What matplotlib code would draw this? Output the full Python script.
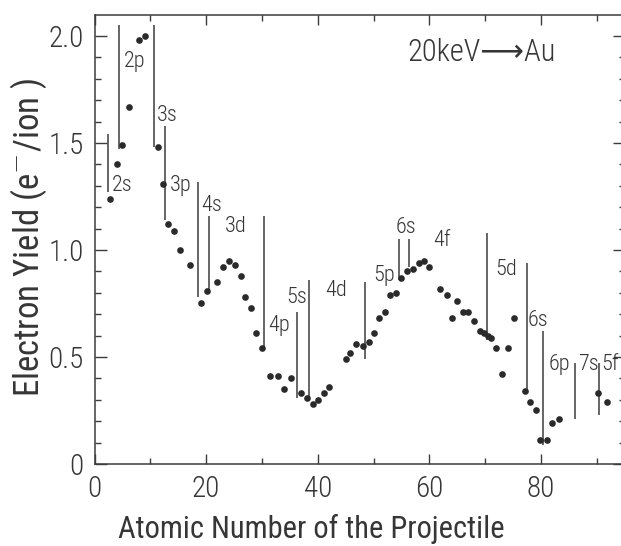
import matplotlib
matplotlib.use('Agg')
import matplotlib.pyplot as plt
from matplotlib.ticker import MultipleLocator, FixedLocator, FixedFormatter

# atomic number of the projectile vs. electron yield (e-/ion), 20 keV ions on Au
Z = [2.8, 4.0, 4.9, 6.2, 7.9, 9.0, 11.3, 12.2, 13.1, 14.2, 15.3, 17.1, 19.1, 20.1,
     22.0, 23.1, 24.1, 25.1, 26.2, 27.0, 28.0, 29.0, 30.0, 31.5, 32.8, 34.0, 35.2,
     37.0, 38.1, 39.1, 40.1, 41.1, 42.1, 45.1, 45.8, 46.9, 48.1, 49.2, 50.1, 51.0,
     52.1, 52.9, 54.1, 55.0, 56.0, 57.0, 58.2, 59.1, 60.0, 62.0, 63.2, 64.1, 65.0,
     66.0, 67.0, 68.0, 69.0, 69.8, 70.5, 71.1, 72.0, 73.0, 74.1, 75.2, 77.2, 78.0,
     79.1, 79.9, 81.1, 82.0, 83.3, 90.2, 91.8]
electron_yield = [1.24, 1.40, 1.49, 1.67, 1.98, 2.00, 1.48, 1.31, 1.12, 1.09, 1.00, 0.93,
                  0.75, 0.81, 0.85, 0.92, 0.95, 0.93, 0.88, 0.78, 0.73, 0.61, 0.54, 0.41,
                  0.41, 0.35, 0.40, 0.33, 0.31, 0.28, 0.30, 0.33, 0.36, 0.49, 0.52, 0.56,
                  0.55, 0.57, 0.61, 0.68, 0.71, 0.79, 0.80, 0.87, 0.90, 0.91, 0.94, 0.95,
                  0.92, 0.82, 0.79, 0.68, 0.76, 0.71, 0.71, 0.67, 0.62, 0.61, 0.60, 0.59,
                  0.54, 0.42, 0.54, 0.68, 0.34, 0.29, 0.25, 0.11, 0.11, 0.19, 0.21, 0.33,
                  0.29]

# vertical markers where a new shell starts filling
shell_x = [2.5, 4.4, 10.6, 12.6, 18.6, 20.5, 30.4, 36.3, 38.4, 48.5, 54.6, 56.4,
           70.3, 77.5, 80.4, 86.2, 90.5]
shell_top = [1.54, 2.05, 2.05, 1.58, 1.32, 1.16, 1.16, 0.71, 0.86, 0.85, 1.05, 1.05,
             1.08, 0.94, 0.62, 0.47, 0.47]
shell_bottom = [1.27, 1.47, 1.48, 1.14, 0.78, 0.80, 0.54, 0.31, 0.30, 0.49, 0.86, 0.92,
                0.58, 0.35, 0.09, 0.21, 0.23]

# shell names
shell_names = ['2s', '2p', '3s', '3p', '4s', '3d', '4p', '5s', '4d', '5p', '6s', '4f',
               '5d', '6s', '6p', '7s', '5f']
name_x = [3.1, 5.3, 11.2, 13.5, 19.2, 23.4, 31.1, 34.4, 41.4, 49.9, 53.9, 60.7,
          71.8, 77.7, 81.3, 86.7, 90.9]
name_y = [1.30, 1.88, 1.63, 1.30, 1.21, 1.11, 0.645, 0.776, 0.81, 0.883, 1.107, 1.044,
          0.911, 0.67, 0.467, 0.467, 0.467]

ytick_vals = [0, 0.5, 1.0, 1.5, 2.0]
ytick_text = ['0', '0.5', '1.0', '1.5', '2.0']

ink = '#363636'
plt.rcParams['font.family'] = ['Roboto Condensed', 'DejaVu Sans']
plt.rcParams['font.weight'] = 'light'

fig = plt.figure(figsize=(6.21, 5.46), dpi=100)
# 5.58 px per unit of Z, 214 px per unit of yield
ax = fig.add_axes([94.5 / 621, 1 - 464 / 546, 530.1 / 621, 449 / 546])

ax.vlines(shell_x, shell_bottom, shell_top, color='#3c3c3c', lw=1.1)
ax.plot(Z, electron_yield, 'o', color='#2a2a2a', ms=4.8, mec='none')
for s, x, y in zip(shell_names, name_x, name_y):
    ax.text(x, y, s, ha='left', va='center', fontsize=16, color=ink)

# weight 340: light Roboto letters, but the Book DejaVu face that has the long arrow
ax.text(56.0, 1.925, '20keV\u27f6Au', ha='left', va='center', fontsize=22, color=ink,
        fontweight=340)

ax.set_xlim(0, 95)
ax.set_ylim(0, 2.098)
ax.xaxis.set_major_locator(MultipleLocator(20))
ax.xaxis.set_minor_locator(MultipleLocator(10))
ax.yaxis.set_major_locator(FixedLocator(ytick_vals))
ax.yaxis.set_major_formatter(FixedFormatter(ytick_text))
ax.yaxis.set_minor_locator(MultipleLocator(0.1))

ax.tick_params(which='both', direction='in', top=True, right=True, colors='#3c3c3c',
               labelcolor=ink, labelsize=21, width=1.0)
ax.tick_params(axis='x', which='major', length=7, pad=8)
ax.tick_params(axis='x', which='minor', length=4)
ax.tick_params(axis='y', which='major', length=8.5, pad=8)
ax.tick_params(axis='y', which='minor', length=4.3)
for sp in ax.spines.values():
    sp.set_color('#3c3c3c')
    sp.set_linewidth(1.1)

ax.set_xlabel('Atomic Number of the Projectile', fontsize=22, color=ink)
ax.xaxis.set_label_coords(0.409, -0.112)
ax.set_ylabel('Electron Yield (e$^{-}$/ion )', fontsize=25, color=ink)
ax.yaxis.set_label_coords(-0.086, 0.505)

fig.savefig('out.png', dpi=100, facecolor='white')
